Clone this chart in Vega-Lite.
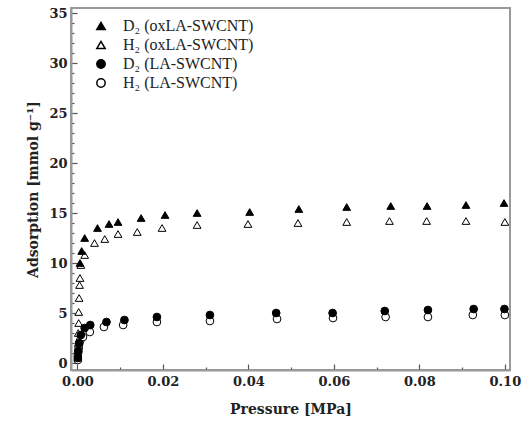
{
  "$schema": "https://vega.github.io/schema/vega-lite/v6.json",
  "autosize": {"type": "none"},
  "width": 439,
  "height": 362,
  "padding": {"left": 71, "top": 8, "right": 14, "bottom": 55},
  "background": "white",
  "config": {
    "view": {"stroke": "#999999", "strokeWidth": 2},
    "font": "Liberation Serif"
  },
  "datasets": {
    "pts": [
      {"series": "H₂ (oxLA-SWCNT)", "p": 0.0001, "a": 0.5},
      {"series": "H₂ (oxLA-SWCNT)", "p": 0.0001, "a": 1.2},
      {"series": "H₂ (oxLA-SWCNT)", "p": 0.0002, "a": 2.0},
      {"series": "H₂ (oxLA-SWCNT)", "p": 0.0002, "a": 3.0},
      {"series": "H₂ (oxLA-SWCNT)", "p": 0.0003, "a": 4.0},
      {"series": "H₂ (oxLA-SWCNT)", "p": 0.0003, "a": 5.1},
      {"series": "H₂ (oxLA-SWCNT)", "p": 0.0004, "a": 6.5},
      {"series": "H₂ (oxLA-SWCNT)", "p": 0.0005, "a": 7.8},
      {"series": "H₂ (oxLA-SWCNT)", "p": 0.0006, "a": 8.5},
      {"series": "H₂ (oxLA-SWCNT)", "p": 0.0008, "a": 9.8},
      {"series": "H₂ (oxLA-SWCNT)", "p": 0.0017, "a": 10.8},
      {"series": "H₂ (oxLA-SWCNT)", "p": 0.004, "a": 12.0},
      {"series": "H₂ (oxLA-SWCNT)", "p": 0.0064, "a": 12.4},
      {"series": "H₂ (oxLA-SWCNT)", "p": 0.0095, "a": 12.9},
      {"series": "H₂ (oxLA-SWCNT)", "p": 0.014, "a": 13.1},
      {"series": "H₂ (oxLA-SWCNT)", "p": 0.0198, "a": 13.5},
      {"series": "H₂ (oxLA-SWCNT)", "p": 0.028, "a": 13.8},
      {"series": "H₂ (oxLA-SWCNT)", "p": 0.0399, "a": 13.9},
      {"series": "H₂ (oxLA-SWCNT)", "p": 0.0516, "a": 14.0},
      {"series": "H₂ (oxLA-SWCNT)", "p": 0.063, "a": 14.1},
      {"series": "H₂ (oxLA-SWCNT)", "p": 0.073, "a": 14.2},
      {"series": "H₂ (oxLA-SWCNT)", "p": 0.0817, "a": 14.2},
      {"series": "H₂ (oxLA-SWCNT)", "p": 0.0909, "a": 14.2},
      {"series": "H₂ (oxLA-SWCNT)", "p": 0.1, "a": 14.1},
      {"series": "D₂ (oxLA-SWCNT)", "p": 0.0006, "a": 10.0},
      {"series": "D₂ (oxLA-SWCNT)", "p": 0.001, "a": 11.2},
      {"series": "D₂ (oxLA-SWCNT)", "p": 0.0017, "a": 12.5},
      {"series": "D₂ (oxLA-SWCNT)", "p": 0.0047, "a": 13.5},
      {"series": "D₂ (oxLA-SWCNT)", "p": 0.0074, "a": 13.9},
      {"series": "D₂ (oxLA-SWCNT)", "p": 0.0095, "a": 14.1},
      {"series": "D₂ (oxLA-SWCNT)", "p": 0.0149, "a": 14.5},
      {"series": "D₂ (oxLA-SWCNT)", "p": 0.0205, "a": 14.8},
      {"series": "D₂ (oxLA-SWCNT)", "p": 0.028, "a": 15.0},
      {"series": "D₂ (oxLA-SWCNT)", "p": 0.0403, "a": 15.1},
      {"series": "D₂ (oxLA-SWCNT)", "p": 0.0518, "a": 15.4},
      {"series": "D₂ (oxLA-SWCNT)", "p": 0.063, "a": 15.6},
      {"series": "D₂ (oxLA-SWCNT)", "p": 0.0733, "a": 15.7},
      {"series": "D₂ (oxLA-SWCNT)", "p": 0.0818, "a": 15.7},
      {"series": "D₂ (oxLA-SWCNT)", "p": 0.0909, "a": 15.8},
      {"series": "D₂ (oxLA-SWCNT)", "p": 0.0998, "a": 16.0},
      {"series": "H₂ (LA-SWCNT)", "p": 0.0001, "a": 0.3},
      {"series": "H₂ (LA-SWCNT)", "p": 0.0001, "a": 0.7},
      {"series": "H₂ (LA-SWCNT)", "p": 0.0002, "a": 1.1},
      {"series": "H₂ (LA-SWCNT)", "p": 0.0003, "a": 1.5},
      {"series": "H₂ (LA-SWCNT)", "p": 0.0004, "a": 1.9},
      {"series": "H₂ (LA-SWCNT)", "p": 0.0007, "a": 2.3},
      {"series": "H₂ (LA-SWCNT)", "p": 0.0013, "a": 2.6},
      {"series": "H₂ (LA-SWCNT)", "p": 0.0029, "a": 3.1},
      {"series": "H₂ (LA-SWCNT)", "p": 0.0062, "a": 3.6},
      {"series": "H₂ (LA-SWCNT)", "p": 0.0107, "a": 3.8},
      {"series": "H₂ (LA-SWCNT)", "p": 0.0186, "a": 4.1},
      {"series": "H₂ (LA-SWCNT)", "p": 0.031, "a": 4.2},
      {"series": "H₂ (LA-SWCNT)", "p": 0.0467, "a": 4.4},
      {"series": "H₂ (LA-SWCNT)", "p": 0.0598, "a": 4.5},
      {"series": "H₂ (LA-SWCNT)", "p": 0.0721, "a": 4.6},
      {"series": "H₂ (LA-SWCNT)", "p": 0.082, "a": 4.6},
      {"series": "H₂ (LA-SWCNT)", "p": 0.0925, "a": 4.8},
      {"series": "H₂ (LA-SWCNT)", "p": 0.1, "a": 4.8},
      {"series": "D₂ (LA-SWCNT)", "p": 0.0001, "a": 0.5},
      {"series": "D₂ (LA-SWCNT)", "p": 0.0002, "a": 1.2},
      {"series": "D₂ (LA-SWCNT)", "p": 0.0004, "a": 2.0},
      {"series": "D₂ (LA-SWCNT)", "p": 0.0008, "a": 2.8},
      {"series": "D₂ (LA-SWCNT)", "p": 0.0017, "a": 3.5},
      {"series": "D₂ (LA-SWCNT)", "p": 0.003, "a": 3.8},
      {"series": "D₂ (LA-SWCNT)", "p": 0.0068, "a": 4.1},
      {"series": "D₂ (LA-SWCNT)", "p": 0.011, "a": 4.3},
      {"series": "D₂ (LA-SWCNT)", "p": 0.0186, "a": 4.6},
      {"series": "D₂ (LA-SWCNT)", "p": 0.031, "a": 4.8},
      {"series": "D₂ (LA-SWCNT)", "p": 0.0465, "a": 5.0},
      {"series": "D₂ (LA-SWCNT)", "p": 0.0597, "a": 5.0},
      {"series": "D₂ (LA-SWCNT)", "p": 0.0719, "a": 5.2},
      {"series": "D₂ (LA-SWCNT)", "p": 0.082, "a": 5.3},
      {"series": "D₂ (LA-SWCNT)", "p": 0.0927, "a": 5.4},
      {"series": "D₂ (LA-SWCNT)", "p": 0.0999, "a": 5.4}
    ]
  },
  "data": {"name": "pts"},
  "resolve": {"axis": {"x": "independent", "y": "independent"}},
  "layer": [
    {
      "mark": {"type": "point", "opacity": 0},
      "encoding": {
        "x": {"field": "p", "type": "quantitative",
          "scale": {"domain": [-0.0015, 0.1012], "nice": false, "zero": false},
          "axis": {"orient": "bottom", "values": [0.01, 0.03, 0.05, 0.07, 0.09], "labels": false, "title": null, "grid": false, "domain": false, "tickSize": -3, "tickColor": "#555555", "tickWidth": 1.2}},
        "y": {"field": "a", "type": "quantitative",
          "scale": {"domain": [-0.7, 35.5], "nice": false, "zero": false},
          "axis": {"orient": "left", "values": [1,2,3,4,6,7,8,9,11,12,13,14,16,17,18,19,21,22,23,24,26,27,28,29,31,32,33,34], "labels": false, "title": null, "grid": false, "domain": false, "tickSize": -3, "tickColor": "#555555", "tickWidth": 1.2}}
      }
    },
    {
      "mark": {"type": "point", "filled": false, "strokeWidth": 1, "size": 60, "opacity": 1},
      "encoding": {
        "x": {"field": "p", "type": "quantitative",
          "scale": {"domain": [-0.0015, 0.1012], "nice": false, "zero": false},
          "axis": {"orient": "bottom", "values": [0, 0.02, 0.04, 0.06, 0.08, 0.1], "format": ".2f", "title": "Pressure [MPa]", "grid": false,
            "domainColor": "#999999", "domainWidth": 2, "tickSize": -6, "tickColor": "#555555", "tickWidth": 1.2,
            "labelFont": "DejaVu Serif", "labelFontWeight": "bold", "labelFontSize": 13, "labelColor": "#222222", "labelPadding": 11,
            "titleFont": "DejaVu Serif", "titleFontWeight": "bold", "titleFontSize": 14, "titleColor": "#222222", "titlePadding": 14}},
        "y": {"field": "a", "type": "quantitative",
          "scale": {"domain": [-0.7, 35.5], "nice": false, "zero": false},
          "axis": {"orient": "left", "values": [0, 5, 10, 15, 20, 25, 30, 35], "format": "d", "title": "Adsorption [mmol g⁻¹]", "grid": false,
            "domainColor": "#999999", "domainWidth": 2, "tickSize": -6, "tickColor": "#555555", "tickWidth": 1.2,
            "labelFont": "DejaVu Serif", "labelFontWeight": "bold", "labelFontSize": 13, "labelColor": "#222222", "labelPadding": 10,
            "titleFont": "DejaVu Serif", "titleFontWeight": "bold", "titleFontSize": 14, "titleColor": "#222222", "titlePadding": 8}},
        "stroke": {"value": "black"},
        "shape": {"field": "series", "type": "nominal",
          "scale": {"domain": ["D₂ (oxLA-SWCNT)", "H₂ (oxLA-SWCNT)", "D₂ (LA-SWCNT)", "H₂ (LA-SWCNT)"], "range": ["triangle-up", "triangle-up", "circle", "circle"]},
          "legend": {"title": null, "orient": "none", "legendX": 22, "legendY": 10, "labelFont": "Liberation Serif", "labelFontSize": 16, "labelColor": "#222222", "symbolSize": 70, "rowPadding": 3, "labelOffset": 14,
            "encode": {"symbols": {"update": {"stroke": {"value": "black"}, "strokeWidth": {"value": 1}}}}}},
        "fill": {"field": "series", "type": "nominal",
          "scale": {"domain": ["D₂ (oxLA-SWCNT)", "H₂ (oxLA-SWCNT)", "D₂ (LA-SWCNT)", "H₂ (LA-SWCNT)"], "range": ["black", "white", "black", "white"]},
          "legend": {"title": null, "orient": "none", "legendX": 22, "legendY": 10, "labelFont": "Liberation Serif", "labelFontSize": 16, "labelColor": "#222222", "symbolSize": 70, "rowPadding": 3, "labelOffset": 14,
            "encode": {"symbols": {"update": {"stroke": {"value": "black"}, "strokeWidth": {"value": 1}}}}}}
      }
    }
  ]
}
